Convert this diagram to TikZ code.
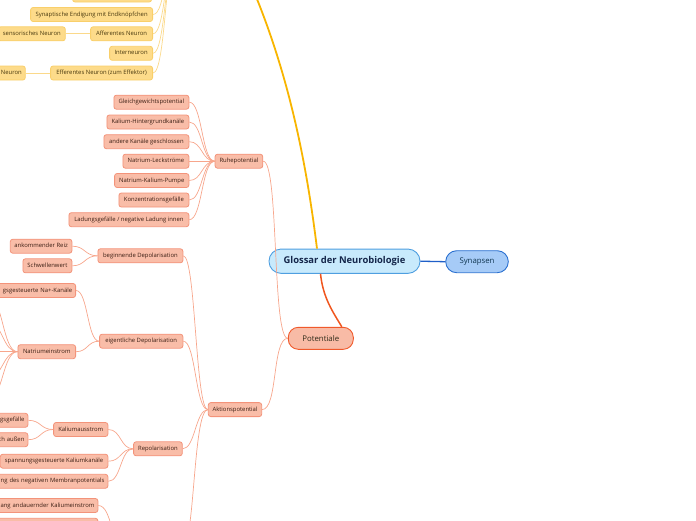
\documentclass[tikz,border=0pt]{standalone}
\usepackage{fontspec}
\setmainfont{Open Sans}
\definecolor{sF}{HTML}{F9BDA8}
\definecolor{sB}{HTML}{F3937A}
\definecolor{sT}{HTML}{3B1F14}
\definecolor{sL}{HTML}{F7A68C}
\definecolor{yF}{HTML}{FDDB8A}
\definecolor{yB}{HTML}{F9CF6A}
\definecolor{yT}{HTML}{4A3A10}
\definecolor{yL}{HTML}{FBD98A}
\definecolor{cF}{HTML}{C8EAFC}
\definecolor{cB}{HTML}{4F9FE0}
\definecolor{cT}{HTML}{14264A}
\definecolor{bF}{HTML}{A6CBF7}
\definecolor{bB}{HTML}{2A70D0}
\definecolor{bT}{HTML}{0F3550}
\definecolor{pF}{HTML}{F8BBA6}
\definecolor{pB}{HTML}{F0592B}
\definecolor{pT}{HTML}{2E2A18}
\definecolor{lineY}{HTML}{F8B500}
\definecolor{lineO}{HTML}{F0561E}
\definecolor{lineB}{HTML}{1F5FC8}
\begin{document}
\begin{tikzpicture}[x=1pt,y=-1pt,
  leaf/.style={rounded corners=2.5pt, line width=0.8pt, minimum height=14pt,
    inner xsep=3.5pt, inner ysep=0pt, text height=4.4pt, text depth=1.4pt,
    font=\fontsize{5.9}{6.5}\selectfont},
  leafS/.style={leaf, draw=sB, fill=sF, text=sT},
  leafY/.style={leaf, draw=yB, fill=yF, text=yT},
  cut/.style={anchor=east, text width=#1, align=right},
  cS/.style={draw=sL, line width=0.7pt},
  cY/.style={draw=yL, line width=0.7pt}]
\useasboundingbox (0,0) rectangle (696,520);
\clip (0,0) rectangle (696,520);

% ---------- main nodes
\node[draw=cB, fill=cF, text=cT, line width=0.9pt, rounded corners=12pt,
  minimum width=151pt, minimum height=24.3pt, inner sep=0pt,
  font=\fontsize{9.4}{11}\selectfont\bfseries] (glossar) at (344.5,261.2) {Glossar der Neurobiologie};
\node[draw=bB, fill=bF, text=bT, line width=0.9pt, rounded corners=11pt,
  minimum width=62.6pt, minimum height=22pt, inner sep=0pt,
  font=\fontsize{7.8}{9}\selectfont] (syn) at (477,261.7) {Synapsen};
\node[draw=pB, fill=pF, text=pT, line width=0.9pt, rounded corners=10pt,
  minimum width=65pt, minimum height=22pt, inner sep=0pt,
  font=\fontsize{7.8}{9}\selectfont] (pot) at (320.8,338.3) {Potentiale};

\coordinate (yroot) at (240,-40);
\draw[lineY, line width=1.8pt] ([xshift=-27.5pt]glossar.north) .. controls (306,160) and (287,60) .. (yroot);
\draw[lineO, line width=1.5pt] ([xshift=-24pt]glossar.south) .. controls (323,298) and (333,312) .. ([xshift=21pt]pot.north);
\draw[lineB, line width=1.3pt] (glossar.east) -- (syn.west);

% ---------- yellow branch
\coordinate (yP) at (178,-50);
\node[leafY, anchor=east, minimum width=79pt] (ytop) at (152,-5) {};
\node[leafY, anchor=east, minimum width=122pt] (ysyn) at (153,14.5) {Synaptische Endigung mit Endknöpfchen};
\node[leafY, anchor=east, minimum width=62pt] (yaff) at (153,33.8) {Afferentes Neuron};
\node[leafY, anchor=east, minimum width=67pt] (ysens) at (65.7,33.8) {sensorisches Neuron};
\node[leafY, anchor=east, minimum width=43pt] (yint) at (153,53.3) {Interneuron};
\node[leafY, anchor=east, minimum width=102pt] (yeff) at (153,73) {Efferentes Neuron (zum Effektor)};
\node[leafY, cut=40pt] (ymot) at (25.7,73) {Neuron};
\foreach \n in {ytop,ysyn,yaff,yint,yeff}
  \draw[cY] (\n.east) .. controls +(13,0) and +(-13,0) .. (yP);
\draw[cY] (ysens.east) -- (yaff.west);
\draw[cY] (ymot.east) -- (yeff.west);

% ---------- Ruhepotential
\node[leafS, minimum width=47.7pt] (ruhe) at (238.9,161.2) {Ruhepotential};
\node[leafS, anchor=east, minimum width=75pt] (r1) at (189.3,102.2) {Gleichgewichtspotential};
\node[leafS, anchor=east, minimum width=82pt] (r2) at (189.3,122) {Kalium-Hintergrundkanäle};
\node[leafS, anchor=east, minimum width=85pt] (r3) at (189.3,141.7) {andere Kanäle geschlossen};
\node[leafS, anchor=east, minimum width=66pt] (r4) at (189.3,161.2) {Natrium-Leckströme};
\node[leafS, anchor=east, minimum width=74.3pt] (r5) at (189.3,180.5) {Natrium-Kalium-Pumpe};
\node[leafS, anchor=east, minimum width=70pt] (r6) at (189.3,200) {Konzentrationsgefälle};
\node[leafS, anchor=east, minimum width=120pt] (r7) at (189.3,219.7) {Ladungsgefälle / negative Ladung innen};
\foreach \n in {r1,r2,r3,r4,r5,r6,r7}
  \draw[cS] (\n.east) .. controls +(13,0) and +(-13,0) .. (ruhe.west);
\draw[cS] (ruhe.east) .. controls +(16,0) and +(-16,0) .. (pot.west);

% ---------- Aktionspotential
\node[leafS, minimum width=53.4pt] (akt) at (235,409.6) {Aktionspotential};
\draw[cS] (akt.east) .. controls +(16,0) and +(-16,0) .. (pot.west);

\node[leafS, anchor=east, minimum width=85pt] (beg) at (183.3,255.8) {beginnende Depolarisation};
\node[leafS, anchor=east, minimum width=61.6pt] (reiz) at (72.3,246.2) {ankommender Reiz};
\node[leafS, anchor=east, minimum width=49pt] (schw) at (72.3,265.8) {Schwellenwert};
\draw[cS] (reiz.east) .. controls +(13,0) and +(-13,0) .. (beg.west);
\draw[cS] (schw.east) .. controls +(13,0) and +(-13,0) .. (beg.west);

\node[leafS, anchor=east, minimum width=83.3pt] (eig) at (183.3,341.2) {eigentliche Depolarisation};
\node[leafS, cut=90pt] (nak) at (76,290.5) {gsgesteuerte Na+-Kanäle};
\node[leafS, anchor=east, minimum width=57.7pt] (nae) at (76,351.7) {Natriumeinstrom};
\draw[cS] (nak.east) .. controls +(12,0) and +(-12,0) .. (eig.west);
\draw[cS] (nae.east) .. controls +(12,0) and +(-12,0) .. (eig.west);
\foreach \i/\yy in {1/296,2/322,3/351.7,4/378,5/400}
  \coordinate (nc\i) at (-12,\yy);
\foreach \i in {1,...,5}
  \draw[cS] (nc\i) .. controls +(15,0) and +(-15,0) .. (nae.west);

\node[leafS, anchor=east, minimum width=48.7pt] (rep) at (182.7,448.8) {Repolarisation};
\node[leafS, anchor=east, minimum width=54.3pt] (kaus) at (108.3,429.5) {Kaliumausstrom};
\node[leafS, cut=40pt] (kg) at (28.3,420.3) {gsgefälle};
\node[leafS, cut=40pt] (ka) at (28.3,439.7) {ch außen};
\node[leafS, anchor=east, minimum width=107.6pt] (kkan) at (108.3,461.2) {spannungsgesteuerte Kaliumkanäle};
\node[leafS, cut=125pt] (kmem) at (108.3,481.3) {ng des negativen Membranpotentials};
\draw[cS] (kg.east) .. controls +(13,0) and +(-13,0) .. (kaus.west);
\draw[cS] (ka.east) .. controls +(13,0) and +(-13,0) .. (kaus.west);
\foreach \n in {kaus,kkan,kmem}
  \draw[cS] (\n.east) .. controls +(13,0) and +(-13,0) .. (rep.west);

\node[leafS, cut=110pt] (klang) at (98.3,505.5) {ang andauernder Kaliumeinstrom};
\node[leafS, anchor=east, minimum width=110pt] (kbot) at (98.3,525.3) {};
\coordinate (hypW) at (125,548);
\coordinate (hypE) at (182,548);
\draw[cS] (klang.east) .. controls +(14,0) and +(-14,0) .. (hypW);
\draw[cS] (kbot.east) .. controls +(14,0) and +(-14,0) .. (hypW);

\foreach \n in {beg,eig,rep}
  \draw[cS] (\n.east) .. controls +(12.5,0) and +(-12.5,0) .. (akt.west);
\draw[cS] (hypE) .. controls +(13,0) and +(-15,0) .. (akt.west);
\end{tikzpicture}
\end{document}
